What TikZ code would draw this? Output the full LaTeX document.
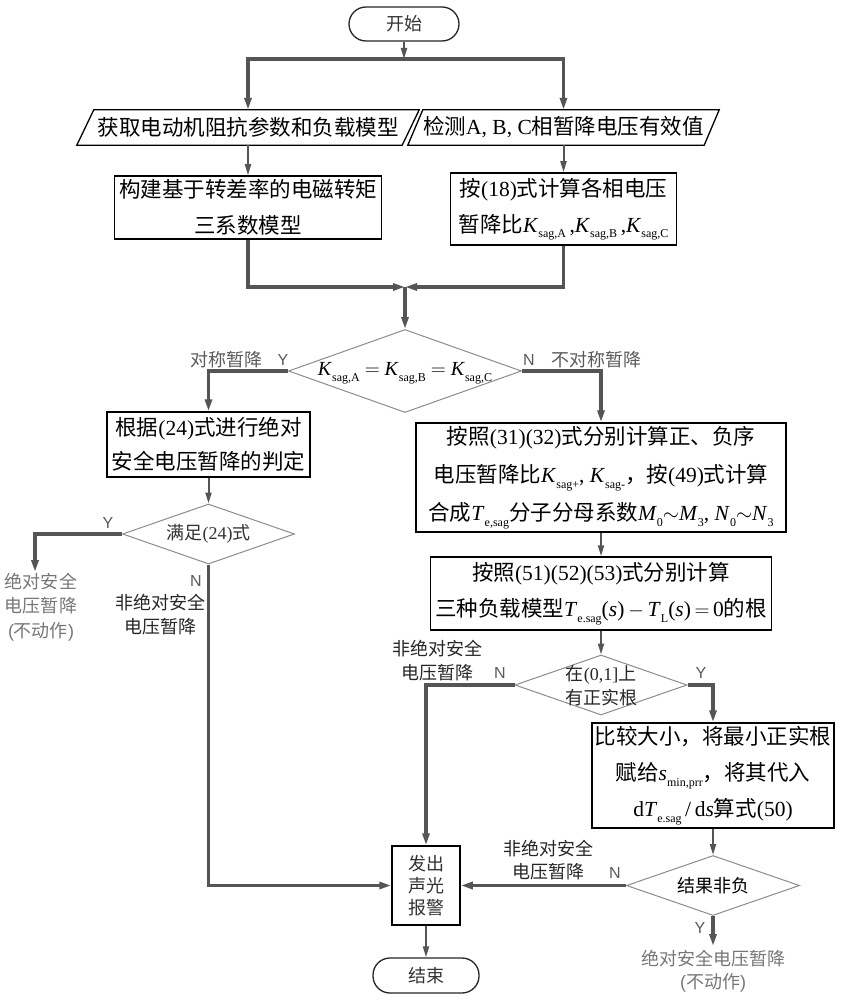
\documentclass[tikz,border=0pt]{standalone}
\usepackage{fontspec}
\setmainfont{Liberation Serif}
\newfontfamily\cjk{Noto Sans CJK SC}
\newfontfamily\lsans{Liberation Sans}
\usetikzlibrary{shapes.geometric,arrows.meta,calc}
\newcommand\zh[1]{{\cjk #1}}
\newcommand\sub[1]{\raisebox{-5.5pt}{\fontsize{12}{12}\selectfont #1}}
\newcommand\vK[1]{\textit{K}\sub{#1}}
\newcommand\vT[1]{\textit{T}\sub{#1}}
\definecolor{ln}{HTML}{555555}
\definecolor{labc}{HTML}{5A5A5A}
\definecolor{gt}{HTML}{777777}
\definecolor{dtc}{HTML}{8C8C8C}
\begin{document}
\begin{tikzpicture}[x=1pt,y=-1pt,
  tip/.tip={Triangle[length=11pt,width=6pt]},
  tarrow/.style={draw=ln,line width=2pt,-{Triangle[length=11pt,width=6pt]}},
  tharrow/.style={draw=ln,line width=3.5pt,-{Triangle[length=12pt,width=7pt]}},
  thk/.style={draw=ln,line width=3.5pt},
  box/.style={draw=black,line width=1.5pt,inner sep=0pt,align=center,
    font=\fontsize{21.5}{36}\selectfont},
  para/.style={inner sep=0pt,minimum height=35pt,font=\fontsize{21.5}{26}\selectfont},
  pline/.style={draw=black,line width=1.3pt},
  term/.style={draw=black!85,line width=1.3pt,rounded corners=17pt,inner sep=0pt,
    font=\fontsize{18}{22}\selectfont,text=black!80},
  dia/.style={shape=diamond,draw=dtc,line width=1pt,inner sep=0pt},
  dtext/.style={align=center,inner sep=0pt},
  lab/.style={text=labc,inner sep=0pt,font=\lsans\fontsize{16}{18}\selectfont},
  ltext/.style={inner sep=0pt,align=center,font=\fontsize{18}{24.5}\selectfont},
]
\fill[white] (0,0) rectangle (840,1000);
\useasboundingbox (0,0) rectangle (840,1000);

% nodes
\node[term,minimum width=110pt,minimum height=34pt] (start) at (404,24) {\zh{开始}};
\coordinate (split) at (404,59);
\node[para,minimum width=325pt] (pL) at (248,127.5) {\zh{获取电动机阻抗参数和负载模型}};
\node[para,minimum width=296pt] (pR) at (563.5,127.5) {\zh{检测}A, B, C\zh{相暂降电压有效值}};
\draw[pline] ([xshift=8.5pt]pL.north west) -- ([xshift=8.5pt]pL.north east)
  -- ([xshift=-8.5pt]pL.south east) -- ([xshift=-8.5pt]pL.south west) -- cycle;
\draw[pline] ([xshift=7.5pt]pR.north west) -- ([xshift=7.5pt]pR.north east)
  -- ([xshift=-7.5pt]pR.south east) -- ([xshift=-7.5pt]pR.south west) -- cycle;

\node[box,minimum width=267pt,minimum height=63pt] (bL) at (248,207.5)
  {\zh{构建基于转差率的电磁转矩}\\\zh{三系数模型}};
\node[box,minimum width=226pt,minimum height=72pt] (bR) at (563.5,209)
  {\zh{按}(18)\zh{式计算各相电压}\\\zh{暂降比}\vK{sag,A}\,,\vK{sag,B}\,,\vK{sag,C}};
\coordinate (merge) at (405,287);

\node[dia,minimum width=233pt,minimum height=83pt] (d1) at (405,371) {};
\node[dtext,font=\fontsize{20}{24}\selectfont] (d1t) at (405,373)
  {\vK{sag,A} $=$ \vK{sag,B} $=$ \vK{sag,C}};

\node[box,minimum width=203pt,minimum height=65pt,font=\fontsize{21.5}{34}\selectfont] (ch) at (208.5,444.5)
  {\zh{根据}(24)\zh{式进行绝对}\\\zh{安全电压暂降的判定}};
\node[dia,minimum width=172pt,minimum height=60pt] (d2) at (208.5,534) {};
\node[dtext,font=\fontsize{18}{22}\selectfont,text=black!80] (d2t) at (208.5,534) {\zh{满足}(24)\zh{式}};
\coordinate (yl) at (35,572);

\node[box,minimum width=370pt,minimum height=109pt,font=\fontsize{21.5}{38}\selectfont] (big) at (601,477.5)
  {\zh{按照}(31)(32)\zh{式分别计算正、负序}\\
   \zh{电压暂降比}\vK{sag+}, \vK{sag-}\zh{，按}(49)\zh{式计算}\\
   \zh{合成}\vT{e,sag}\zh{分子分母系数}\textit{M}\sub{0}$\sim$\textit{M}\sub{3}, \textit{N}\sub{0}$\sim$\textit{N}\sub{3}};
\node[box,minimum width=341pt,minimum height=73pt] (b51) at (601,593.5)
  {\zh{按照}(51)(52)(53)\zh{式分别计算}\\
   \zh{三种负载模型}\vT{e.sag}(\textit{s})\,$-$\,\vT{L}(\textit{s})\,$=$\,0\zh{的根}};
\node[dia,minimum width=172pt,minimum height=60pt] (d3) at (601,685) {};
\node[dtext,font=\fontsize{18}{24}\selectfont,text=black!85] (d3t) at (601,686)
  {\zh{在}(0,1]\zh{上}\\\zh{有正实根}};
\node[box,minimum width=242pt,minimum height=105pt,font=\fontsize{21.5}{36}\selectfont] (cmp) at (713,775.5)
  {\zh{比较大小，将最小正实根}\\
   \zh{赋给}\textit{s}\sub{min,prr}\zh{，将其代入}\\
   d\vT{e.sag}\,/\,d\textit{s}\zh{算式}(50)};
\node[dia,minimum width=173pt,minimum height=60pt] (d4) at (713,885.5) {};
\node[dtext,font=\fontsize{18}{22}\selectfont] (d4t) at (713,886) {\zh{结果非负}};
\coordinate (yb) at (713,946);

\node[box,minimum width=68pt,minimum height=79pt,font=\fontsize{18}{22}\selectfont,text=black!80] (alarm) at (426,885.5)
  {\zh{发出}\\\zh{声光}\\\zh{报警}};
\node[term,minimum width=106pt,minimum height=35pt] (end) at (426,975.5) {\zh{结束}};

% labels
\node[lab] (y1) at (283,360) {Y};
\node[ltext,text=labc] (l1) at (226,360) {\zh{对称暂降}};
\node[lab] (n1) at (529,360) {N};
\node[ltext,text=labc] (l2) at (596,360) {\zh{不对称暂降}};
\node[lab] (y2) at (108,523) {Y};
\node[ltext,text=gt] (l3) at (41,607) {\zh{绝对安全}\\\zh{电压暂降}\\{\lsans(}\zh{不动作}{\lsans)}};
\node[lab] (n2) at (196,581) {N};
\node[ltext,text=black!85] (l4) at (160,614.5) {\zh{非绝对安全}\\\zh{电压暂降}};
\node[lab] (n3) at (500,673) {N};
\node[ltext,text=black!85] (l5) at (437,660.5) {\zh{非绝对安全}\\\zh{电压暂降}};
\node[lab] (y3) at (701,673) {Y};
\node[lab] (n4) at (615,873) {N};
\node[ltext,text=black!85,font=\fontsize{18}{23}\selectfont] (l6) at (548,860.5) {\zh{非绝对安全}\\\zh{电压暂降}};
\node[lab] (y4) at (700,928) {Y};
\node[ltext,text=gt,font=\fontsize{18}{23}\selectfont] (l7) at (713,971.5) {\zh{绝对安全电压暂降}\\{\lsans(}\zh{不动作}{\lsans)}};

% connectors
\draw[tarrow] (start.south) -- (split);
\draw[thk] (pL.north |- split) -- (pR.north |- split);
\draw[tharrow] (split) -| (pL.north);
\draw[tharrow] (split) -| (pR.north);
\draw[tarrow] (pL.south) -- (pL.south |- bL.north);
\draw[tarrow] (pR.south) -- (pR.south |- bR.north);
\draw[tharrow] (bL.south) |- (merge);
\draw[tharrow] (bR.south) |- (merge);
\draw[tharrow] (merge) -- (d1.north);
\draw[tharrow] (d1.west) -| (ch.north);
\draw[tharrow] (d1.east) -| (big.north);
\draw[tarrow] (ch.south) -- (d2.north);
\draw[tharrow] (d2.west) -| (yl);
\draw[tharrow] (d2.south) |- (alarm.west);
\draw[tarrow] (big.south) -- (b51.north);
\draw[tarrow] (b51.south) -- (d3.north);
\draw[tharrow] (d3.west) -| (alarm.north);
\draw[tharrow] (d3.east) -| (cmp.north);
\draw[tarrow] (cmp.south) -- (d4.north);
\draw[tharrow] (d4.west) -- (alarm.east);
\draw[tharrow] (d4.south) -- (yb);
\draw[tarrow] (alarm.south) -- (end.north);
\end{tikzpicture}
\end{document}
